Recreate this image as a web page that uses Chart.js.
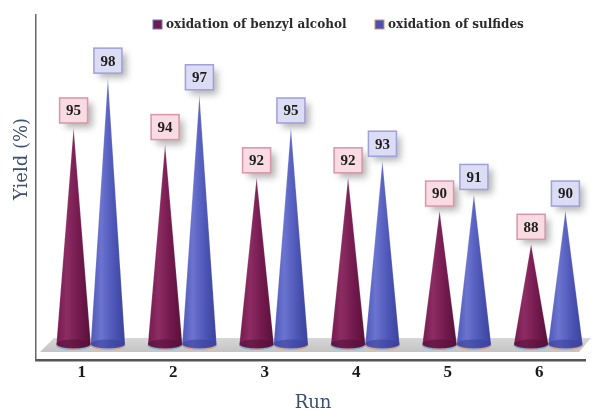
<!DOCTYPE html>
<html>
<head>
<meta charset="utf-8">
<script src="https://cdn.jsdelivr.net/npm/chart.js@4.4.1/dist/chart.umd.min.js"></script>
<style>
  html, body { margin: 0; padding: 0; background: #fff; }
  #wrap { width: 595px; height: 413px; position: relative; }
</style>
</head>
<body>
<div id="wrap"><canvas id="c"></canvas></div>
<script>
const runs = ['1', '2', '3', '4', '5', '6'];
const benzylAlcohol = [95, 94, 92, 92, 90, 88];
const sulfides = [98, 97, 95, 93, 91, 90];
const seriesNames = ['oxidation of benzyl alcohol', 'oxidation of sulfides'];

const serif = '"Liberation Serif", "Times New Roman", serif';
const wideSerif = '"DejaVu Serif", serif';
const titleColor = '#3d4f6e';

// cone colours per series
const coneStyle = [
  { light: '#8c2c63', mid: '#741a4f', dark: '#561038', rim: '#6fb6d8', fill: '#f9dbe3', border: '#d995ab' },
  { light: '#6c74d0', mid: '#4f57b8', dark: '#3a429c', rim: '#e0a070', fill: '#dcdcf4', border: '#9fa0dc' }
];
const depth = 9; // pseudo 3d shift of the cones

const conePlugin = {
  id: 'cones',
  beforeDatasetsDraw(chart) {
    const ctx = chart.ctx;
    const a = chart.chartArea;
    const baseY = chart.scales.y.getPixelForValue(82);
    // grey floor
    ctx.save();
    const g = ctx.createLinearGradient(0, baseY - 7, 0, baseY + 8);
    g.addColorStop(0, '#d8d8d8');
    g.addColorStop(1, '#c4c4c4');
    ctx.fillStyle = g;
    ctx.beginPath();
    ctx.moveTo(a.left + 4, baseY + 8);
    ctx.lineTo(a.left + 18, baseY - 6);
    ctx.lineTo(a.right + 6, baseY - 6);
    ctx.lineTo(a.right - 6, baseY + 8);
    ctx.closePath();
    ctx.fill();
    ctx.restore();
  },
  afterDatasetsDraw(chart) {
    const ctx = chart.ctx;
    chart.data.datasets.forEach((ds, di) => {
      const meta = chart.getDatasetMeta(di);
      const st = coneStyle[di];
      meta.data.forEach((bar, i) => {
        const x = bar.x + depth;
        const tip = bar.y;
        const base = bar.base;
        const hw = bar.width / 2;
        ctx.save();
        const grad = ctx.createLinearGradient(x - hw, 0, x + hw, 0);
        grad.addColorStop(0, st.mid);
        grad.addColorStop(0.3, st.light);
        grad.addColorStop(0.65, st.mid);
        grad.addColorStop(1, st.dark);
        // rim under the base
        ctx.beginPath();
        ctx.ellipse(x, base + 1, hw, 4.5, 0, 0, Math.PI);
        ctx.strokeStyle = st.rim;
        ctx.lineWidth = 1.2;
        ctx.stroke();
        // body
        ctx.beginPath();
        ctx.moveTo(x, tip);
        ctx.lineTo(x + hw, base);
        ctx.ellipse(x, base, hw, 4.5, 0, 0, Math.PI);
        ctx.closePath();
        ctx.fillStyle = grad;
        ctx.fill();
        ctx.strokeStyle = 'rgba(255,255,255,0.25)';
        ctx.lineWidth = 0.8;
        ctx.stroke();
        // base ellipse
        ctx.beginPath();
        ctx.ellipse(x, base, hw, 4.5, 0, 0, Math.PI * 2);
        ctx.fillStyle = st.dark;
        ctx.globalAlpha = 0.6;
        ctx.fill();
        ctx.restore();

        // value label box
        const w = 28, h = 25;
        const bx = x - w / 2, by = tip - 5 - h;
        ctx.save();
        ctx.shadowColor = 'rgba(0,0,0,0.3)';
        ctx.shadowBlur = 7;
        ctx.shadowOffsetX = 5;
        ctx.shadowOffsetY = 5;
        ctx.fillStyle = st.fill;
        ctx.fillRect(bx, by, w, h);
        ctx.restore();
        ctx.save();
        ctx.strokeStyle = st.border;
        ctx.lineWidth = 1.5;
        ctx.strokeRect(bx, by, w, h);
        ctx.fillStyle = '#1e1e1e';
        ctx.font = 'bold 15px ' + serif;
        ctx.textAlign = 'center';
        ctx.textBaseline = 'middle';
        ctx.fillText(ds.data[i], x, by + h / 2 + 1);
        ctx.restore();
      });
    });
  },
  afterDraw(chart) {
    const ctx = chart.ctx;
    ctx.save();
    // axis titles
    ctx.fillStyle = titleColor;
    ctx.font = '18px ' + wideSerif;
    ctx.textAlign = 'center';
    ctx.textBaseline = 'middle';
    ctx.fillText('Run', 313, 403);
    ctx.translate(22, 159);
    ctx.rotate(-Math.PI / 2);
    ctx.fillText('Yield (%)', 0, 0);
    ctx.restore();

    // legend
    ctx.save();
    ctx.font = 'bold 12px ' + wideSerif;
    ctx.textBaseline = 'middle';
    const items = [
      { x: 153, sq: '#6e1a4c', edge: '#6a74c8' },
      { x: 375, sq: '#4a52b0', edge: '#d89070' }
    ];
    items.forEach((it, k) => {
      ctx.fillStyle = it.sq;
      ctx.fillRect(it.x, 20, 9, 9);
      ctx.strokeStyle = it.edge;
      ctx.lineWidth = 1;
      ctx.strokeRect(it.x, 20, 9, 9);
      ctx.fillStyle = '#2a2a2a';
      ctx.fillText(seriesNames[k], it.x + 13, 25);
    });
    ctx.restore();
  }
};

new Chart(document.getElementById('c'), {
  type: 'bar',
  data: {
    labels: runs,
    datasets: [
      { label: seriesNames[0], data: benzylAlcohol, base: 82, backgroundColor: 'rgba(0,0,0,0)' },
      { label: seriesNames[1], data: sulfides, base: 82, backgroundColor: 'rgba(0,0,0,0)' }
    ]
  },
  options: {
    responsive: true,
    maintainAspectRatio: false,
    animation: false,
    layout: { padding: { left: 28, top: 15, right: 10, bottom: 28 } },
    categoryPercentage: 0.75,
    barPercentage: 1,
    plugins: {
      legend: { display: false },
      tooltip: { enabled: false }
    },
    scales: {
      x: {
        grid: { display: false, drawTicks: false },
        border: { display: true, color: '#555', width: 2.5 },
        ticks: {
          color: '#1a1a1a',
          padding: 2,
          font: { family: serif, size: 17, weight: 'bold' }
        }
      },
      y: {
        min: 81,
        max: 101.8,
        grid: { display: false },
        border: { display: true, color: '#666', width: 1.5 },
        ticks: { display: false }
      }
    }
  },
  plugins: [conePlugin]
});
</script>
</body>
</html>
